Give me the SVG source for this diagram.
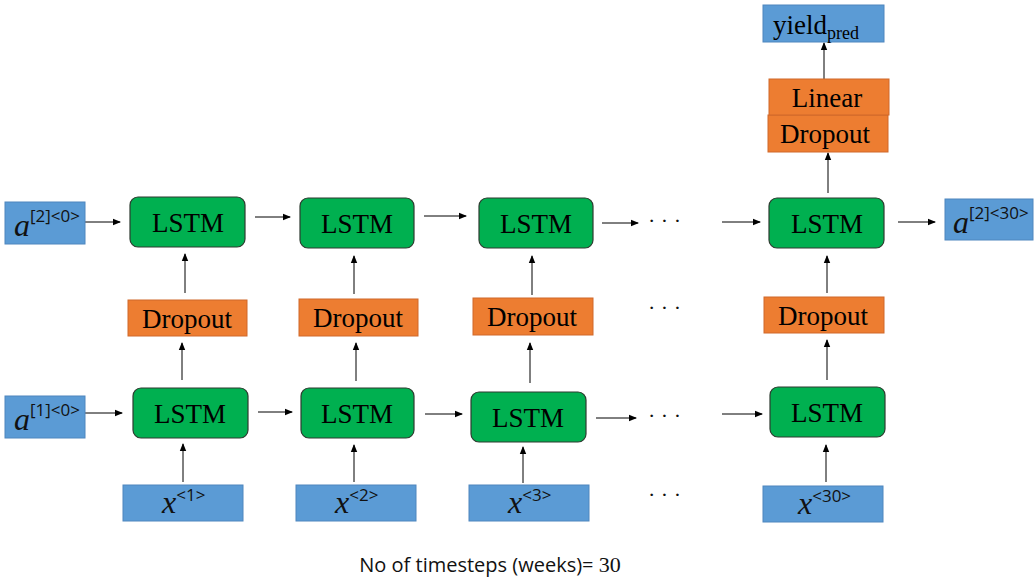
<svg xmlns="http://www.w3.org/2000/svg" width="1034" height="578" viewBox="0 0 1034 578">
<defs>
<marker id="ah" markerWidth="8" markerHeight="8" refX="7" refY="4" orient="auto" markerUnits="userSpaceOnUse">
<path d="M0,0.8 L8,4 L0,7.2 Z" fill="#000"/>
</marker>
<style>
.blue{fill:#5B9BD5;stroke:#4F86BE;stroke-width:1}
.orange{fill:#ED7D31;stroke:#D0692A;stroke-width:1}
.green{fill:#00B050;stroke:#2E3B30;stroke-width:1.2}
.lbl{font-family:"Liberation Serif","DejaVu Serif",serif;font-size:27px;fill:#000;text-anchor:middle}
.math{font-family:"Liberation Serif","DejaVu Serif",serif;font-style:italic;font-size:32px;fill:#111}
.sup{font-family:"Open Sans","Liberation Sans",sans-serif;font-size:17px;fill:#111;font-style:normal}
.cap{font-family:"Open Sans","Liberation Sans",sans-serif;font-size:20px;fill:#111;text-anchor:middle}
.dots{font-family:"Liberation Serif",serif;font-size:22px;fill:#111}
.c{stroke:#000;stroke-width:1;fill:none;marker-end:url(#ah)}
</style>
</defs>
<rect width="1034" height="578" fill="#fff"/>

<g id="connectors">
<path class="c" d="M85,222 H120"/>
<path class="c" d="M255,217 H290"/>
<path class="c" d="M424,216 H466"/>
<path class="c" d="M602,223 H638"/>
<path class="c" d="M722,222 H760"/>
<path class="c" d="M898,222 H935"/>
<path class="c" d="M85,413 H122"/>
<path class="c" d="M258,412 H292"/>
<path class="c" d="M425,414 H462"/>
<path class="c" d="M596,418 H636"/>
<path class="c" d="M722,414 H762"/>
<path class="c" d="M185,293 V254"/>
<path class="c" d="M354,294 V256"/>
<path class="c" d="M532,295 V256"/>
<path class="c" d="M827,293 V256"/>
<path class="c" d="M182,380 V343"/>
<path class="c" d="M356,381 V343"/>
<path class="c" d="M530,383 V343"/>
<path class="c" d="M827,380 V340"/>
<path class="c" d="M183,482 V444"/>
<path class="c" d="M354,482 V445"/>
<path class="c" d="M523,483 V447"/>
<path class="c" d="M826,482 V445"/>
<path class="c" d="M828,193 V153"/>
<path class="c" d="M824,79 V43"/>
</g>

<g id="a2_0"><rect class="blue" x="5" y="202" width="80" height="42"/><text class="math" x="14" y="236">a<tspan class="sup" dy="-14">[2]&lt;0&gt;</tspan></text></g>
<g id="a1_0"><rect class="blue" x="5" y="396" width="80" height="42"/><text class="math" x="14" y="430">a<tspan class="sup" dy="-14">[1]&lt;0&gt;</tspan></text></g>
<g id="a2_30"><rect class="blue" x="945" y="199" width="88" height="41"/><text class="math" x="953" y="233">a<tspan class="sup" dy="-14">[2]&lt;30&gt;</tspan></text></g>

<g id="lstm_t1"><rect class="green" x="130" y="197" width="115" height="50" rx="8"/><text class="lbl" x="188" y="232">LSTM</text></g>
<g id="lstm_t2"><rect class="green" x="300" y="198" width="114" height="50" rx="8"/><text class="lbl" x="357" y="233">LSTM</text></g>
<g id="lstm_t3"><rect class="green" x="479" y="198" width="114" height="50" rx="8"/><text class="lbl" x="536" y="233">LSTM</text></g>
<g id="lstm_t4"><rect class="green" x="769" y="198" width="115" height="50" rx="8"/><text class="lbl" x="827" y="233">LSTM</text></g>

<g id="drop1"><rect class="orange" x="128" y="300" width="119" height="36"/><text class="lbl" x="187" y="328">Dropout</text></g>
<g id="drop2"><rect class="orange" x="299" y="299" width="119" height="37"/><text class="lbl" x="358" y="327">Dropout</text></g>
<g id="drop3"><rect class="orange" x="473" y="298" width="120" height="37"/><text class="lbl" x="532" y="326">Dropout</text></g>
<g id="drop4"><rect class="orange" x="764" y="297" width="120" height="36"/><text class="lbl" x="823" y="325">Dropout</text></g>

<g id="lstm_b1"><rect class="green" x="133" y="388" width="115" height="50" rx="8"/><text class="lbl" x="190" y="423">LSTM</text></g>
<g id="lstm_b2"><rect class="green" x="301" y="388" width="113" height="50" rx="8"/><text class="lbl" x="357" y="423">LSTM</text></g>
<g id="lstm_b3"><rect class="green" x="471" y="392" width="115" height="50" rx="8"/><text class="lbl" x="528" y="427">LSTM</text></g>
<g id="lstm_b4"><rect class="green" x="770" y="387" width="115" height="50" rx="8"/><text class="lbl" x="827" y="422">LSTM</text></g>

<g id="x1"><rect class="blue" x="123" y="485" width="120" height="36"/><text class="math" x="162" y="513">x<tspan class="sup" dy="-12">&lt;1&gt;</tspan></text></g>
<g id="x2"><rect class="blue" x="296" y="485" width="120" height="36"/><text class="math" x="335" y="513">x<tspan class="sup" dy="-12">&lt;2&gt;</tspan></text></g>
<g id="x3"><rect class="blue" x="469" y="485" width="120" height="36"/><text class="math" x="508" y="513">x<tspan class="sup" dy="-12">&lt;3&gt;</tspan></text></g>
<g id="x30"><rect class="blue" x="763" y="486" width="120" height="36"/><text class="math" x="798" y="514">x<tspan class="sup" dy="-12">&lt;30&gt;</tspan></text></g>

<g id="dropout_top"><rect class="orange" x="768" y="115" width="120" height="37"/><text class="lbl" x="825" y="143">Dropout</text></g>
<g id="linear"><rect class="orange" x="769" y="79" width="120" height="36"/><text class="lbl" x="827" y="107">Linear</text></g>
<g id="yield"><rect class="blue" x="763" y="5" width="121" height="37"/><text class="lbl" x="816" y="34">yield<tspan font-size="18" dy="5">pred</tspan></text></g>

<g id="ellipses">
<text class="dots" x="648" y="228">· · ·</text>
<text class="dots" x="648" y="315">· · ·</text>
<text class="dots" x="648" y="423">· · ·</text>
<text class="dots" x="648" y="502">· · ·</text>
</g>

<text class="cap" x="490" y="572">No of timesteps (weeks)= <tspan font-family="Liberation Serif, serif" font-size="22">30</tspan></text>
</svg>
